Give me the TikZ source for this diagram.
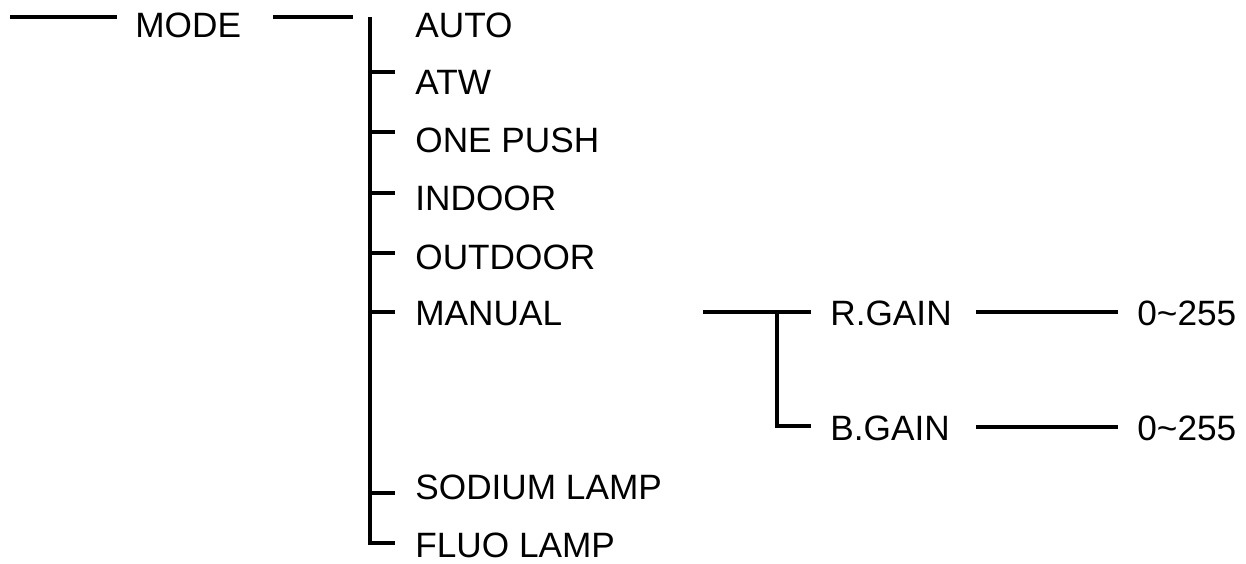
\documentclass[tikz,border=0pt]{standalone}
\usepackage{fontspec}
\setmainfont{Liberation Sans}
\usetikzlibrary{positioning,calc}
\tikzset{
  lbl/.style={anchor=west,inner sep=0pt,text height=12.2pt,text depth=0pt,
    font=\fontsize{17.6}{20}\selectfont},
  ln/.style={line width=1.8pt,line cap=butt},
}
\begin{document}
\begin{tikzpicture}[x=0.5pt,y=0.5pt]
  \useasboundingbox (0,0) rectangle (1246,-563);
  \node[lbl] (mode) at (135,-25) {MODE};
  \node[lbl] (auto) at (415,-25) {AUTO};
  \node[lbl] (atw) at (415,-82) {ATW};
  \node[lbl] (onepush) at (415,-140) {ONE PUSH};
  \node[lbl] (indoor) at (415,-198) {INDOOR};
  \node[lbl] (outdoor) at (415,-257) {OUTDOOR};
  \node[lbl] (manual) at (415,-313) {MANUAL};
  \node[lbl] (sodium) at (415,-487) {SODIUM LAMP};
  \node[lbl] (fluo) at (415,-545) {FLUO LAMP};
  \node[lbl] (rgain) at (830,-313) {R.GAIN};
  \node[lbl] (bgain) at (830,-428) {B.GAIN};
  \node[lbl] (rval) at (1137,-313) {0\textasciitilde255};
  \node[lbl] (bval) at (1137,-428) {0\textasciitilde255};
  % mode lines
  \draw[ln] ([xshift=-62.5pt,yshift=4pt]mode.west) -- ([xshift=-9pt,yshift=4pt]mode.west);
  \draw[ln] ([xshift=69pt,yshift=4pt]mode.west) -- ([xshift=109pt,yshift=4pt]mode.west);
  \coordinate (top) at ([xshift=117.5pt,yshift=4pt]mode.west);
  % trunk and ticks
  \draw[ln] (top) |- ([xshift=-10pt,yshift=1pt]fluo.west);
  \draw[ln] ([xshift=-22.5pt,yshift=5pt]atw.west) -- ([xshift=-10pt,yshift=5pt]atw.west);
  \draw[ln] ([xshift=-22.5pt,yshift=4pt]onepush.west) -- ([xshift=-10pt,yshift=4pt]onepush.west);
  \draw[ln] ([xshift=-22.5pt,yshift=2.5pt]indoor.west) -- ([xshift=-10pt,yshift=2.5pt]indoor.west);
  \draw[ln] ([xshift=-22.5pt,yshift=2pt]outdoor.west) -- ([xshift=-10pt,yshift=2pt]outdoor.west);
  \draw[ln] ([xshift=-22.5pt,yshift=0.5pt]manual.west) -- ([xshift=-10pt,yshift=0.5pt]manual.west);
  \draw[ln] ([xshift=-22.5pt,yshift=-3pt]sodium.west) -- ([xshift=-10pt,yshift=-3pt]sodium.west);
  % manual branch
  \draw[ln] ([xshift=-63.5pt,yshift=0.5pt]rgain.west) -- ([xshift=-9.5pt,yshift=0.5pt]rgain.west);
  \coordinate (split) at ([xshift=-26.5pt,yshift=0.5pt]rgain.west);
  \draw[ln] (split) |- ([xshift=-9.5pt,yshift=1pt]bgain.west);
  \draw[ln] ([xshift=-80.5pt,yshift=0.5pt]rval.west) -- ([xshift=-9.5pt,yshift=0.5pt]rval.west);
  \draw[ln] ([xshift=-80.5pt,yshift=0.5pt]bval.west) -- ([xshift=-9.5pt,yshift=0.5pt]bval.west);
\end{tikzpicture}
\end{document}
